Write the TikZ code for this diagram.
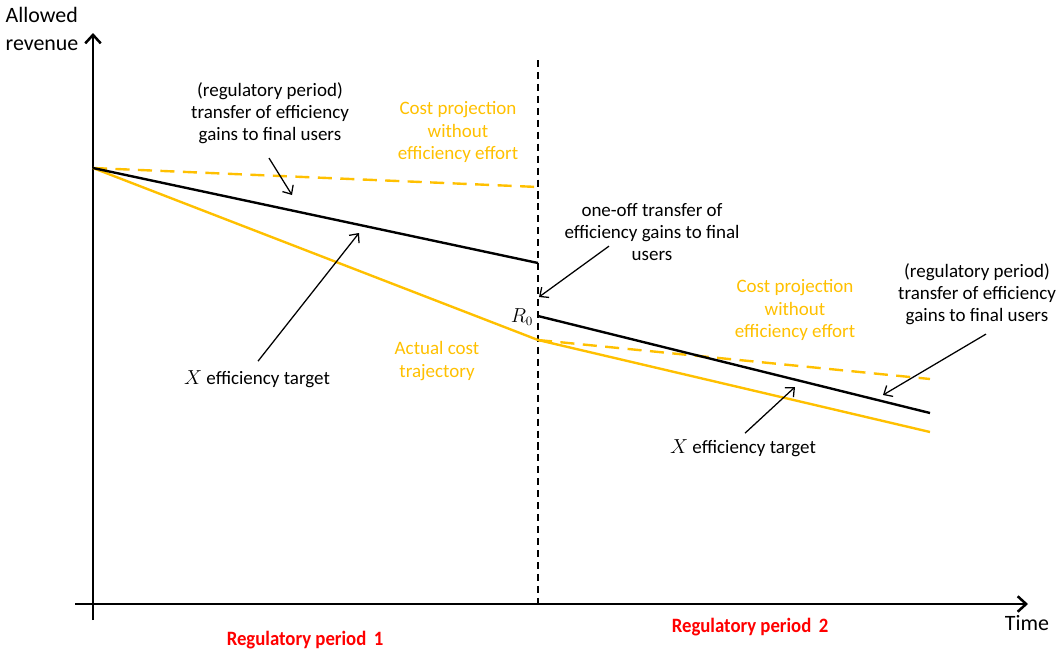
\documentclass[tikz,border=0pt]{standalone}
\usepackage{fontspec}
\setmainfont{Carlito}
\usepackage{graphicx}
\usepackage{tikz}
\usetikzlibrary{arrows.meta,calc}
\definecolor{gold}{HTML}{FFC000}
\definecolor{regred}{HTML}{FF0000}
\tikzset{>={Straight Barb[length=5pt,width=9pt]}}

\begin{document}
\begin{tikzpicture}[x=0.025cm,y=-0.025cm,
  lbl/.style={align=center,inner sep=0pt,font=\fontsize{13.5}{15.8}\selectfont},
  goldlbl/.style={lbl,text=gold},
  axlbl/.style={align=left,inner sep=0pt,font=\fontsize{15.6}{20}\selectfont},
  period/.style={inner sep=0pt,text=regred,font=\fontsize{14.5}{16}\selectfont\bfseries},
  axis/.style={line width=1.8pt,-{Straight Barb[length=6pt,width=11pt]}},
  rev/.style={line width=1.7pt},
  cost/.style={line width=1.7pt,gold},
  proj/.style={line width=1.7pt,gold,dash pattern=on 10pt off 6pt},
  note/.style={line width=0.9pt,->}]
\useasboundingbox (0,0) rectangle (1061,653);

% axes
\coordinate (ybot) at (93,620);
\coordinate (ytop) at (93,33);
\coordinate (xleft) at (75,604);
\coordinate (xend) at (1028,604);
\draw[axis] (ybot) -- (ytop);
\draw[axis] (xleft) -- (xend);
\node[axlbl] (ylbl) at (42,29) {Allowed\\revenue};
\node[axlbl] (tlbl) at (1027,623) {Time};

% end of period 1
\coordinate (vtop) at (538,60);
\coordinate (vbot) at (538,604);
\draw[line width=0.8pt,dash pattern=on 5pt off 3.5pt] (vtop) -- (vbot);

% trajectories
\coordinate (s0) at (93,168);
\coordinate (b1) at (538,263);
\coordinate (d1) at (538,187);
\coordinate (c1) at (538,340);
\coordinate (r0) at (538,316);
\coordinate (b2) at (930,413);
\coordinate (d2) at (930,379);
\coordinate (c2) at (930,432);
\draw[proj] (s0) -- (d1);
\draw[proj] (c1) -- (d2);
\draw[cost] (s0) -- (c1) -- (c2);
\draw[rev] (s0) -- (b1);
\draw[rev] (r0) -- (b2);
\node[inner sep=0pt,font=\fontsize{13.5}{16}\selectfont] (rzero) at (522,317) {$R_0$};

% labels
\node[lbl] (transl) at (270,113) {(regulatory period)\\transfer of efficiency\\gains to final users};
\node[goldlbl] (costl) at (458,132) {Cost projection\\without\\efficiency effort};
\node[lbl] (xtl) at (257,379) {$X$ efficiency target};
\node[goldlbl] (actual) at (437,361) {Actual cost\\trajectory};
\node[lbl] (oneoff) at (652,232) {one-off transfer of\\efficiency gains to final\\users};
\node[goldlbl] (costr) at (795,310) {Cost projection\\without\\efficiency effort};
\node[lbl] (transr) at (977,294) {(regulatory period)\\transfer of efficiency\\gains to final users};
\node[lbl] (xtr) at (743,448) {$X$ efficiency target};
\node[period] (per1) at (305,640) {\scalebox{0.92}[1]{Regulatory period \,1}};
\node[period] (per2) at (750,627) {\scalebox{0.92}[1]{Regulatory period \,2}};

% annotation arrows
\coordinate (h1) at (292,195);
\coordinate (h2) at (359,233);
\coordinate (h3) at (539,297);
\coordinate (h4) at (883,395);
\coordinate (h5) at (795,387);
\draw[note] ($(transl.south)+(-1,14)$) -- (h1);
\draw[note] ($(xtl.north)+(1,-9)$) -- (h2);
\draw[note] ($(oneoff.south)+(-43,-15)$) -- (h3);
\draw[note] ($(transr.south)+(9,9)$) -- (h4);
\draw[note] ($(xtr.north)+(2,-6)$) -- (h5);
\end{tikzpicture}
\end{document}
